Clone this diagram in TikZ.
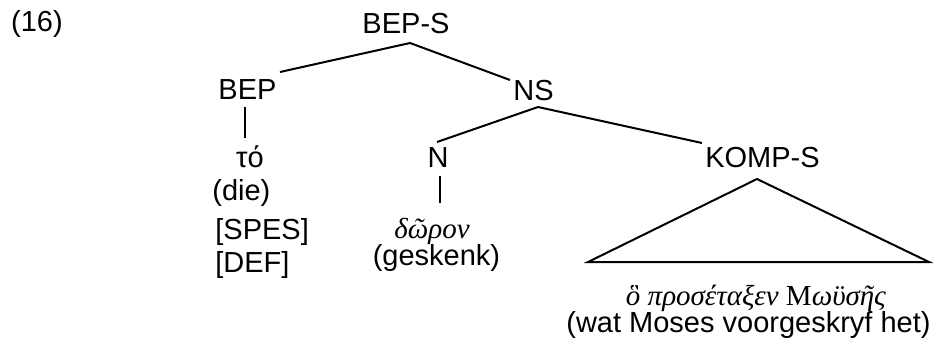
\documentclass[tikz,border=0pt]{standalone}
\usepackage{fontspec}
\setmainfont{Liberation Sans}
\newfontfamily\grkfont{Liberation Serif}
\usetikzlibrary{calc}
\begin{document}
\begin{tikzpicture}[x=0.5pt,y=-0.5pt,
  lbl/.style={inner sep=0pt,anchor=base,font=\fontsize{14.5}{17}\selectfont},
  lblw/.style={lbl,anchor=base west},
  grk/.style={lbl,font=\fontsize{14.5}{17}\selectfont\grkfont\itshape},
  edge/.style={line width=1pt}]
\useasboundingbox (0,0) rectangle (936,349);

% example number
\node[lbl] (num) at (37,31) {(16)};

% category labels
\node[lbl] (beps)  at (406,33)  {BEP-S};
\node[lbl] (bep)   at (247.5,99) {BEP};
\node[lbl] (ns)    at (533.5,100) {NS};
\node[lbl] (n)     at (438,167) {N};
\node[lbl] (komps) at (762.5,167) {KOMP-S};

% terminal strings and glosses
\node[lbl]  (to)    at (250,167) {τό};
\node[lblw] (die)   at (212,200) {(die)};
\node[lblw] (spes)  at (215,239) {[SPES]};
\node[lblw] (def)   at (215,272) {[DEF]};
\node[grk]  (doron) at (432,238) {δῶρον};
\node[lbl]  (gesk)  at (436.5,265) {(geskenk)};
\node[grk]  (rel)   at (756,305) {ὃ προσέταξεν {\upshape Μ}ωϋσῆς};
\node[lbl]  (relgl) at (748.5,332) {(wat Moses voorgeskryf het)};

% branches
\draw[edge] ($(beps.base)+(4,10)$) -- ($(bep.base)+(32.5,-27)$);
\draw[edge] ($(beps.base)+(4,10)$) -- ($(ns.base)+(-23.5,-20)$);
\draw[edge] ($(ns.base)+(4.5,7)$) -- ($(n.base)+(-1,-25)$);
\draw[edge] ($(ns.base)+(4.5,7)$) -- ($(komps.base)+(-60.5,-24)$);
\draw[edge] ($(bep.base)+(-2.5,8)$) -- ($(to.base)+(-5,-29)$);
\draw[edge] ($(n.base)+(2,9)$) -- ($(doron.base)+(8,-35)$);

% triangle over the relative clause
\draw[edge,line join=miter] ($(komps.base)+(-5.5,12)$)
  -- ($(rel.base)+(-168,-43)$) -- ($(rel.base)+(173,-43)$) -- cycle;
\end{tikzpicture}
\end{document}
